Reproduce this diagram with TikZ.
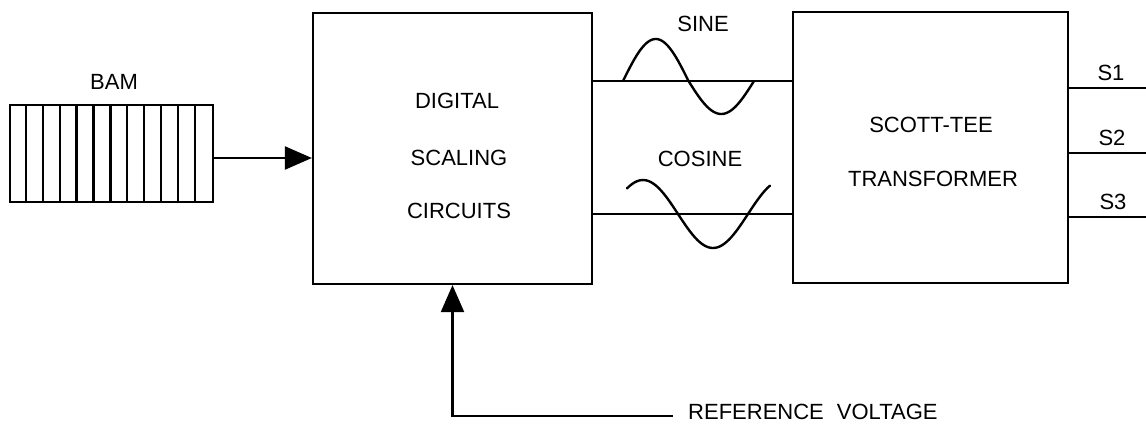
\documentclass[tikz,border=0pt]{standalone}
\usepackage{fontspec}
\setmainfont{Liberation Sans}
\usetikzlibrary{arrows.meta,calc}
\begin{document}
\begin{tikzpicture}[x=1pt,y=-1pt,
  ln/.style={line width=2.2pt},
  box/.style={draw,ln,rectangle,inner sep=0pt},
  arr/.style={ln,-{Triangle[length=27pt,width=23pt]}},
  lbl/.style={font=\fontsize{22}{24}\selectfont,inner sep=0pt,anchor=base},
  wave/.style={line width=2.4pt,line cap=round,smooth}]
\useasboundingbox (0,0) rectangle (1146,431);
% blocks
\node[box,minimum width=203pt,minimum height=97pt] (bam) at (111.5,153.5) {};
\node[box,minimum width=279pt,minimum height=271pt] (dsc) at (452.5,148.5) {};
\node[box,minimum width=275pt,minimum height=271pt] (stt) at (930.5,147.5) {};
% register stripes
\foreach \i in {1,...,11}
  \draw[ln] ($(bam.north west)+(\i*16.92,0)$) -- ($(bam.south west)+(\i*16.92,0)$);
% labels
\node[lbl] (tbam) at (114,89) {BAM};
\node[lbl] (t1) at (457,108) {DIGITAL};
\node[lbl] (t2) at (459,165) {SCALING};
\node[lbl] (t3) at (459,218) {CIRCUITS};
\node[lbl] (t4) at (931,132) {SCOTT-TEE};
\node[lbl] (t5) at (933,186) {TRANSFORMER};
\node[lbl] (tsin) at (703,31) {SINE};
\node[lbl] (tcos) at (700,166) {COSINE};
\node[lbl] (ts1) at (1111,80) {S1};
\node[lbl] (ts2) at (1112,145) {S2};
\node[lbl] (ts3) at (1113,209) {S3};
\node[lbl,anchor=base west] (tref) at (688,419) {REFERENCE\hspace{13pt}VOLTAGE};
% connectors
\coordinate (bamout) at (213,158);
\draw[arr] (bamout) -- (bamout -| dsc.west);
\coordinate (sinl) at (592,81);
\draw[ln] (sinl -| dsc.east) -- (sinl -| stt.west);
\coordinate (cosl) at (592,214);
\draw[ln] (cosl -| dsc.east) -- (cosl -| stt.west);
\coordinate (s1e) at (1146,88);
\coordinate (s2e) at (1146,153);
\coordinate (s3e) at (1146,217);
\draw[ln] (s1e -| stt.east) -- (s1e);
\draw[ln] (s2e -| stt.east) -- (s2e);
\draw[ln] (s3e -| stt.east) -- (s3e);
\coordinate (refend) at (673,416);
\draw[arr] (refend) -| (dsc.south);
% waves
\draw[wave] plot[domain=623:688.5,samples=40] (\x,{81-42*sin(((\x-623)/131)*360)});
\draw[wave] plot[domain=688.5:754,samples=40] (\x,{81-33*sin(((\x-623)/131)*360)});
\draw[wave] plot[domain=627:770,samples=60] (\x,{214-34*cos(((\x-643)/140)*360)});
\end{tikzpicture}
\end{document}
